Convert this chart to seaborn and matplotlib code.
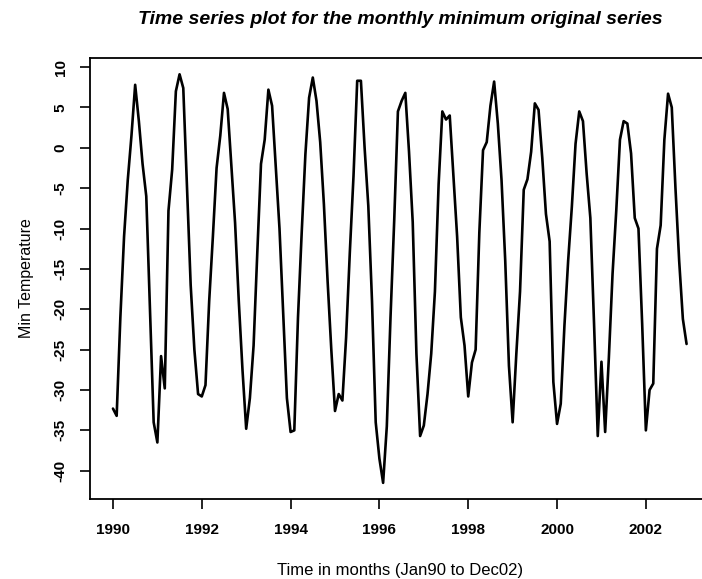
import numpy as np
import pandas as pd
import matplotlib
matplotlib.use("Agg")
import matplotlib.pyplot as plt
import seaborn as sns

# ---- data (monthly minimum temperature, Jan 1990 - Dec 2002) ----
start_year = 1990
min_temp = [
    -32.3, -33.2, -21.0, -11.0, -4.0, 1.5, 7.8, 3.3, -2.0, -6.0, -20.0, -34.0,      # 1990
    -36.5, -25.8, -29.8, -7.8, -2.7, 7.0, 9.1, 7.4, -4.8, -17.0, -25.0, -30.5,      # 1991
    -30.8, -29.4, -19.0, -11.0, -2.5, 1.5, 6.8, 4.8, -2.2, -9.3, -19.0, -27.5,      # 1992
    -34.8, -31.0, -24.5, -13.0, -2.0, 1.0, 7.2, 5.2, -2.3, -10.0, -20.5, -31.0,     # 1993
    -35.2, -35.0, -21.0, -10.5, -0.8, 6.2, 8.7, 5.8, 0.7, -7.0, -16.5, -25.0,       # 1994
    -32.6, -30.5, -31.3, -23.5, -13.0, -3.5, 8.3, 8.3, 0.0, -7.2, -19.0, -34.0,     # 1995
    -38.5, -41.5, -34.5, -21.0, -9.0, 4.5, 5.8, 6.8, -0.5, -9.2, -25.5, -35.7,      # 1996
    -34.4, -30.5, -25.5, -17.8, -4.5, 4.5, 3.5, 4.0, -3.5, -11.0, -21.0, -24.5,     # 1997
    -30.8, -26.6, -25.0, -10.5, -0.3, 0.7, 5.2, 8.2, 3.0, -4.0, -14.0, -27.0,       # 1998
    -34.0, -25.5, -17.8, -5.2, -3.9, -0.5, 5.5, 4.7, -1.2, -8.2, -11.6, -29.0,      # 1999
    -34.2, -31.7, -22.0, -14.0, -7.3, 0.5, 4.5, 3.3, -3.2, -8.7, -21.8, -35.7,      # 2000
    -26.5, -35.2, -26.0, -15.6, -7.8, 1.0, 3.3, 3.0, -0.7, -8.7, -10.0, -21.8,      # 2001
    -35.0, -30.0, -29.2, -12.5, -9.6, 1.0, 6.7, 5.0, -5.0, -14.0, -21.2, -24.3,     # 2002
]
x_ticks = [1990, 1992, 1994, 1996, 1998, 2000, 2002]
y_ticks = [-40, -35, -30, -25, -20, -15, -10, -5, 0, 5, 10]

title = "Time series plot for the monthly minimum original series"
x_label = "Time in months (Jan90 to Dec02)"
y_label = "Min Temperature"

df = pd.DataFrame({
    "time": start_year + np.arange(len(min_temp)) / 12.0,
    "temp": min_temp,
})

# ---- style ----
sns.set_theme(style="ticks")
plt.rcParams["font.family"] = ["Liberation Sans", "DejaVu Sans"]
plt.rcParams["axes.unicode_minus"] = False
plt.rcParams["text.color"] = "black"

W, H = 702, 579
fig = plt.figure(figsize=(W / 100, H / 100), dpi=100)
fig.patch.set_facecolor("white")
# box runs past the right edge of the (cropped) picture
ax = fig.add_axes([90 / W, (H - 499) / H, 619.5 / W, 441 / H])
ax.set_facecolor("white")

sns.lineplot(data=df, x="time", y="temp", color="black", linewidth=1.9, ax=ax)

ax.set_xlim(1989.483, 2003.433)
ax.set_ylim(-43.5, 11.12)
ax.set_xticks(x_ticks)
ax.set_xticklabels([str(v) for v in x_ticks], fontweight="bold")
ax.set_yticks(y_ticks)
ax.set_yticklabels([str(v) for v in y_ticks], rotation=90, va="center",
                   fontweight="bold")
ax.tick_params(direction="out", length=7, width=1.2, labelsize=11,
               colors="black")
ax.tick_params(axis="x", pad=10)
ax.tick_params(axis="y", pad=9)
for s in ax.spines.values():
    s.set_visible(True)
    s.set_color("black")
    s.set_linewidth(1.3)
ax.set_xlabel("")
ax.set_ylabel("")

fig.text(400 / W, 1 - 570 / H, x_label, ha="center", va="center", fontsize=12,
         color="black")
fig.text(26 / W, 1 - 278 / H, y_label, ha="center", va="center", rotation=90,
         fontsize=11.5, color="black")
fig.text(400 / W, 1 - 19 / H, title, ha="center", va="center", fontsize=14,
         fontweight="bold", style="italic", color="black")

fig.savefig("out.png", dpi=100)
